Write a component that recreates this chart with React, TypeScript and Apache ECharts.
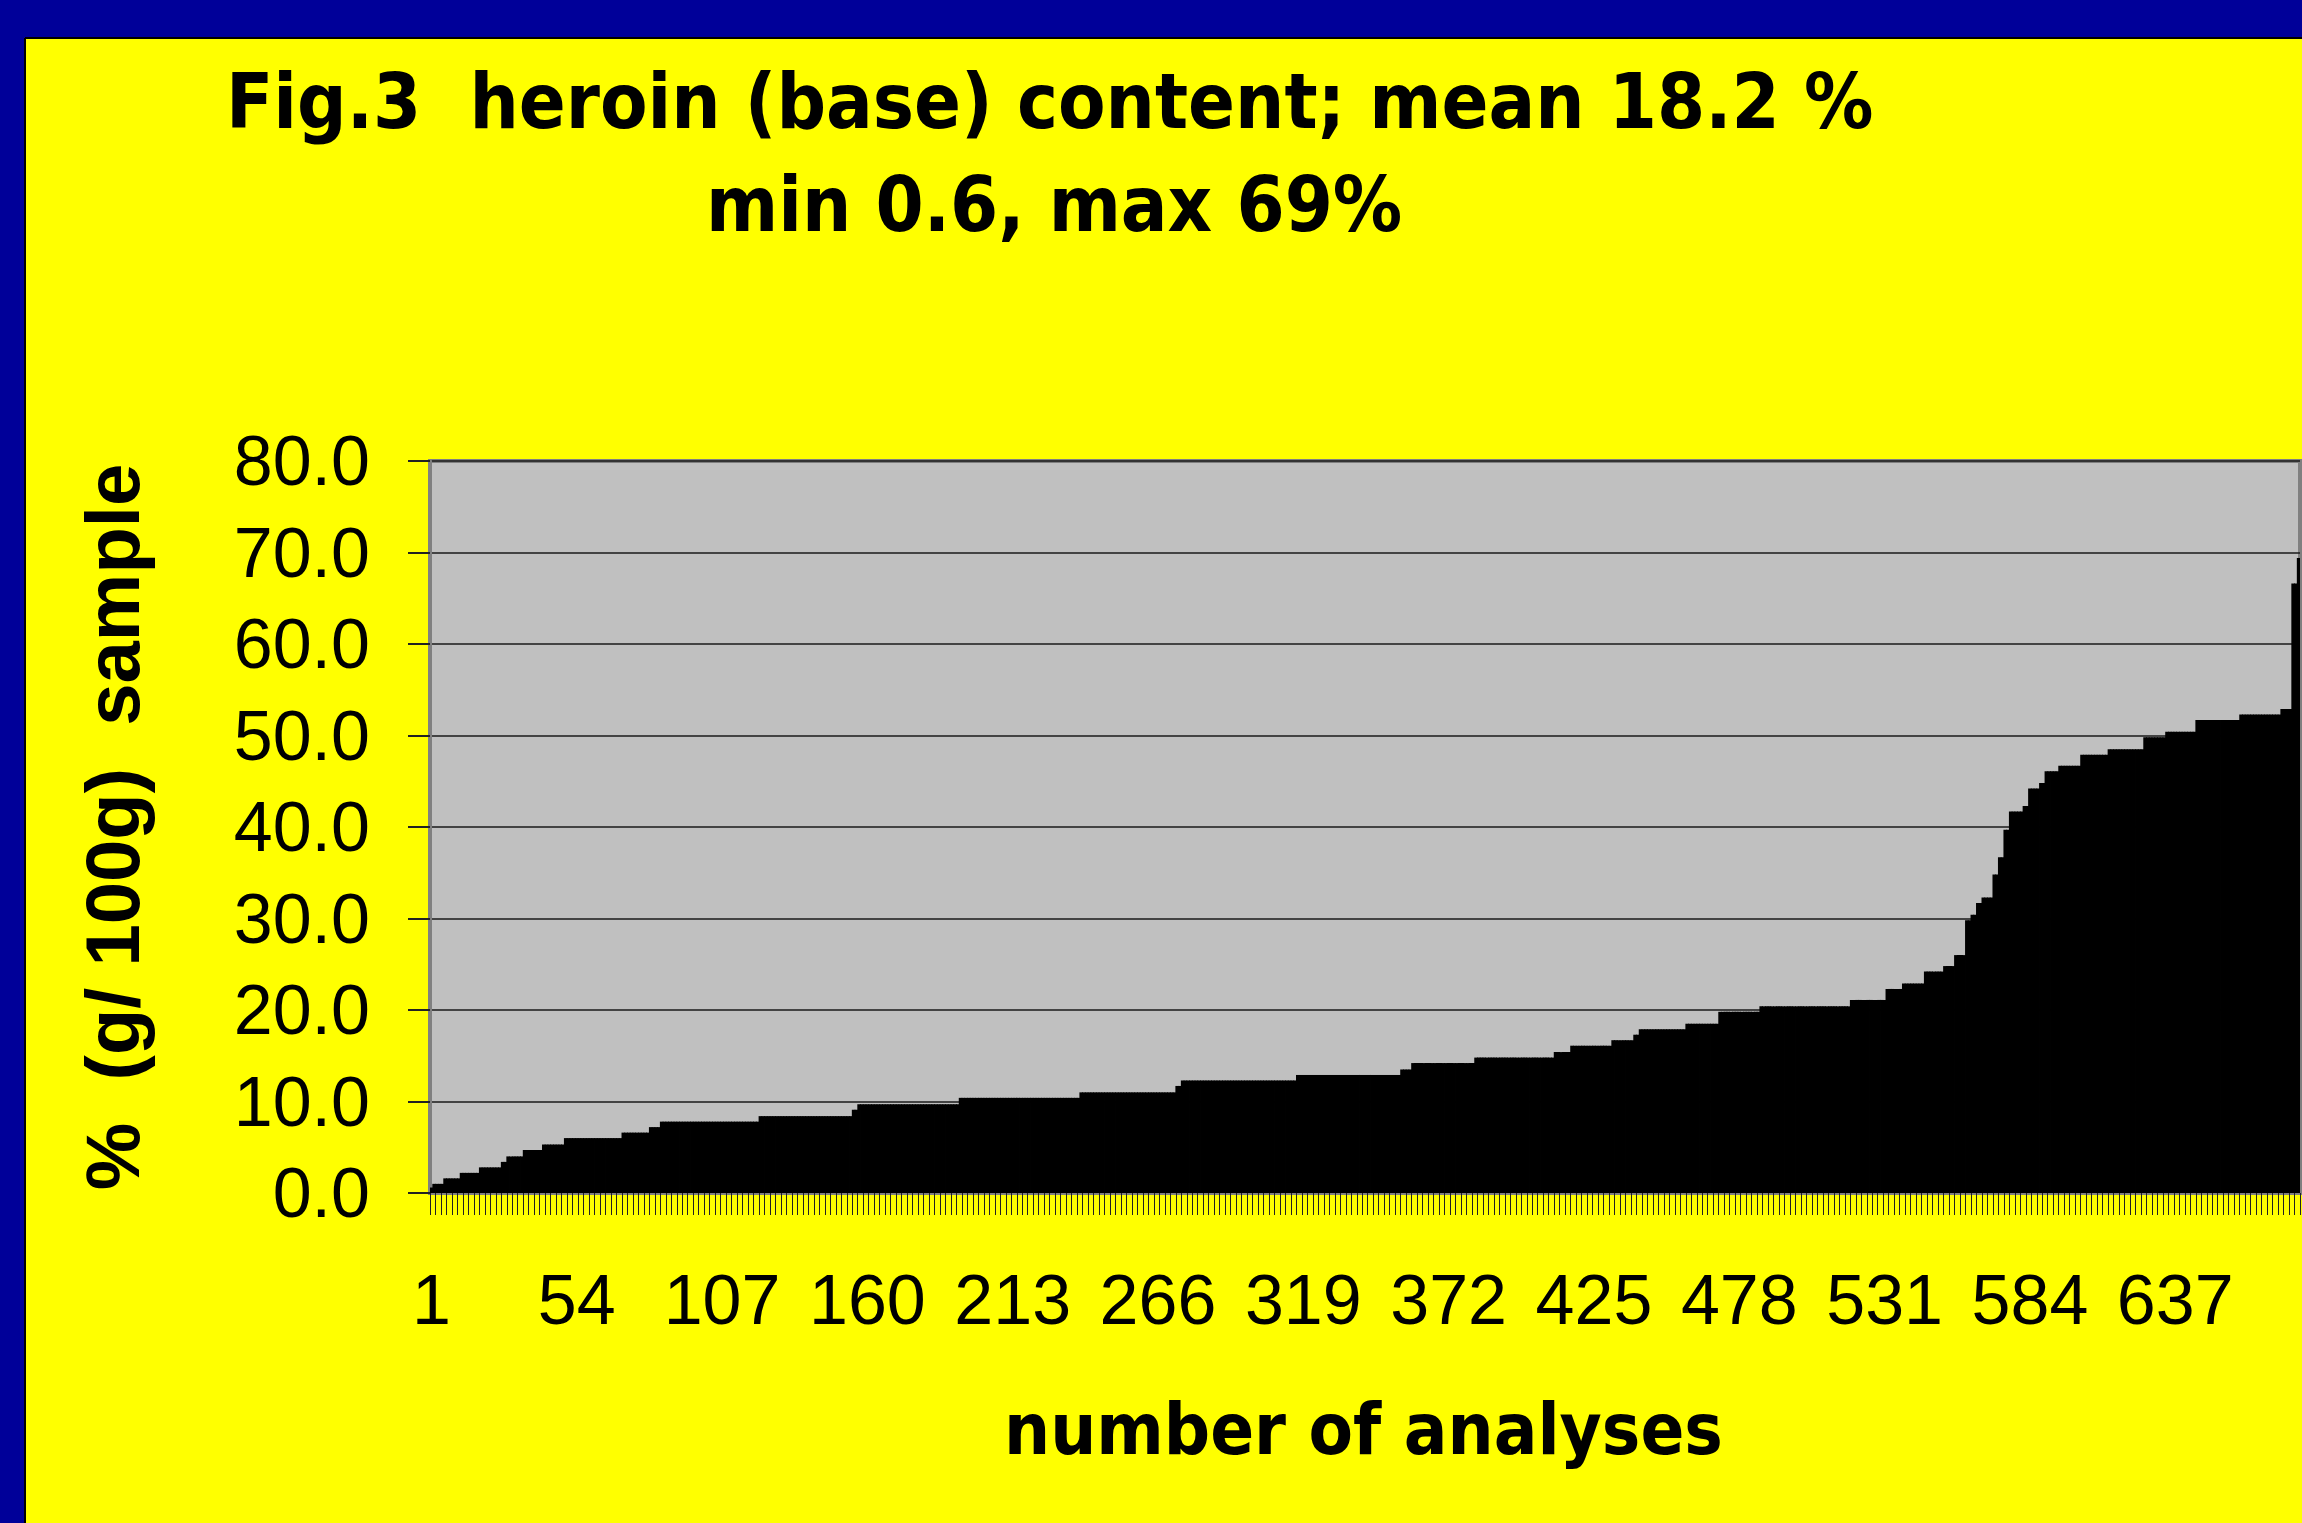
import React, { useEffect, useRef } from "react";
import * as echarts from "echarts";

const runValues = [
  0.6, 1.0, 1.6, 2.2, 2.8, 3.4, 4.0, 4.7, 5.3, 6.0,
  6.6, 7.2, 7.8, 8.4, 9.1, 9.7, 10.4, 11.0, 11.7, 12.3,
  12.9, 13.5, 14.2, 14.8, 15.4, 16.1, 16.7, 17.3, 17.9, 18.5,
  19.8, 20.4, 21.1, 22.3, 22.9, 24.2, 24.8, 26.0, 29.8, 30.4,
  31.7, 32.3, 34.8, 36.7, 39.7, 41.7, 42.3, 44.2, 44.8, 46.1,
  46.7, 47.9, 48.5, 49.8, 50.4, 51.7, 52.3, 52.9, 66.6, 69.4,
];
const runCounts = [
  1, 4, 6, 7, 8, 2, 6, 7, 8, 21,
  10, 4, 36, 34, 2, 37, 44, 35, 2, 42,
  38, 4, 23, 29, 6, 15, 8, 2, 17, 12,
  15, 33, 13, 6, 8, 7, 4, 4, 2, 2,
  2, 4, 2, 2, 2, 5, 2, 4, 2, 5,
  8, 10, 13, 8, 11, 16, 15, 4, 2, 1,
];
const yMin = 0;
const yMax = 80;
const yStep = 10;
const labelEvery = 53;

const titleLine1 = "Fig.3  heroin (base) content; mean 18.2 %";
const titleLine2 = "min 0.6, max 69%";
const yTitle = "%  (g/ 100g)  sample";
const xTitle = "number of analyses";

const values: number[] = [];
runValues.forEach((v, k) => {
  for (let j = 0; j < runCounts[k]; j++) values.push(v);
});
const categories = values.map((_, i) => String(i + 1));

export default function App() {
  const ref = useRef<HTMLDivElement>(null);
  useEffect(() => {
    const chart = echarts.init(ref.current!, null, { renderer: "svg" });
    const tickFont = '"Liberation Sans", Arial, sans-serif';
    const titleFont = '"DejaVu Sans", Verdana, sans-serif';
    chart.setOption({
      animation: false,
      backgroundColor: "#FFFF00",
      graphic: [
        { type: "rect", shape: { x: 0, y: 0, width: 2302, height: 38 }, style: { fill: "#000099" } },
        { type: "rect", shape: { x: 0, y: 0, width: 25, height: 1523 }, style: { fill: "#000099" } },
        { type: "line", shape: { x1: 25, y1: 38, x2: 2302, y2: 38 }, style: { stroke: "#000", lineWidth: 2 } },
        { type: "line", shape: { x1: 25, y1: 38, x2: 25, y2: 1523 }, style: { stroke: "#000", lineWidth: 2 } },
        {
          type: "text", x: 226, y: 101, scaleX: 0.9,
          style: {
            text: titleLine1, fill: "#000", fontFamily: titleFont, fontWeight: "bold", fontSize: 77,
            textAlign: "left", textVerticalAlign: "middle", align: "left", verticalAlign: "middle",
          },
        },
        {
          type: "text", x: 706, y: 204, scaleX: 0.9,
          style: {
            text: titleLine2, fill: "#000", fontFamily: titleFont, fontWeight: "bold", fontSize: 77,
            textAlign: "left", textVerticalAlign: "middle", align: "left", verticalAlign: "middle",
          },
        },
        {
          type: "text", x: 1004, y: 1429, scaleX: 0.9,
          style: {
            text: xTitle, fill: "#000", fontFamily: titleFont, fontWeight: "bold", fontSize: 72,
            textAlign: "left", textVerticalAlign: "middle", align: "left", verticalAlign: "middle",
          },
        },
        {
          type: "text", x: 112, y: 827, rotation: Math.PI / 2,
          style: {
            text: yTitle, fill: "#000", fontFamily: tickFont, fontWeight: "bold", fontSize: 76,
            textAlign: "center", textVerticalAlign: "middle", align: "center", verticalAlign: "middle",
          },
        },
      ],
      grid: {
        left: 430, top: 461, width: 1870, height: 732,
        show: true, backgroundColor: "#C0C0C0", borderColor: "#808080", borderWidth: 4,
      },
      xAxis: {
        type: "category",
        data: categories,
        boundaryGap: true,
        axisLine: { show: true, lineStyle: { color: "#808080", width: 3 } },
        axisTick: { show: true, interval: 1, length: 22, lineStyle: { color: "#222", width: 1 } },
        axisLabel: {
          interval: (index: number) => index % labelEvery === 0,
          margin: 72,
          fontFamily: tickFont, fontSize: 70, color: "#000",
        },
        splitLine: { show: false },
      },
      yAxis: {
        type: "value",
        min: yMin, max: yMax, interval: yStep,
        axisLine: { show: true, lineStyle: { color: "#808080", width: 4 } },
        axisTick: { show: true, length: 22, lineStyle: { color: "#222", width: 2 } },
        axisLabel: {
          formatter: (v: number) => v.toFixed(1), margin: 60,
          fontFamily: tickFont, fontSize: 70, color: "#000",
        },
        splitLine: { show: true, lineStyle: { color: "#1a1a1a", width: 1.5 } },
      },
      series: [
        {
          type: "bar",
          data: values,
          barWidth: 3.6,
          barGap: "-100%",
          itemStyle: { color: "#000000" },
          silent: true,
        },
      ],
    });
    return () => chart.dispose();
  }, []);
  return <div ref={ref} style={{ position: "fixed", left: 0, top: 0, width: 2302, height: 1523 }} />;
}
